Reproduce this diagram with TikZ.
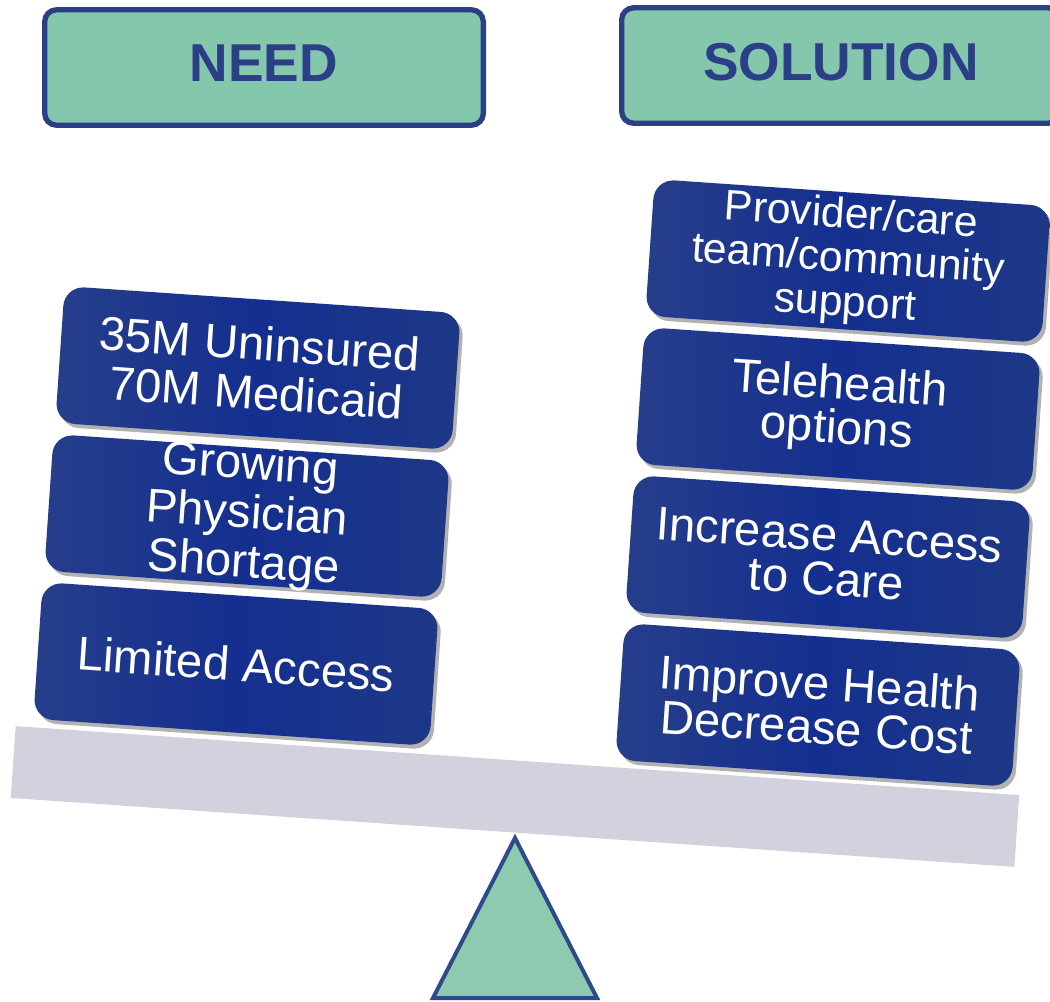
\documentclass[tikz,border=0pt]{standalone}
\usepackage{fontspec}
\setmainfont{Liberation Sans}
\usetikzlibrary{shadows}
\definecolor{hdrfill}{RGB}{132,199,173}
\definecolor{hdrline}{RGB}{43,63,135}
\definecolor{pivfill}{RGB}{142,202,176}
\definecolor{pivline}{RGB}{47,74,139}
\definecolor{beamgray}{RGB}{210,210,222}
\definecolor{boxL}{RGB}{38,62,138}
\definecolor{boxM}{RGB}{20,47,143}
\definecolor{boxR}{RGB}{30,56,135}

\begin{document}
\begin{tikzpicture}[x=0.75pt,y=-0.75pt,
    header/.style={draw=hdrline,line width=4pt,fill=hdrfill,rounded corners=9pt,
      minimum width=329pt,minimum height=86.6pt,text=hdrline,text depth=6pt,
      font=\bfseries\fontsize{40}{41}\selectfont},
    item/.style={rounded corners=15pt,minimum width=297.75pt,minimum height=102.75pt,
      left color=boxL,right color=boxR,middle color=boxM,rotate=-3.93,
      drop shadow={shadow xshift=2.5pt,shadow yshift=-3pt,fill=black,opacity=0.3}},
    itemtext/.style={text=white,align=center,rotate=-3.93,inner sep=0pt,
      font=\fontsize{35.5}{36.75}\selectfont},
    tighttext/.style={itemtext,font=\fontsize{35.5}{33}\selectfont},
    pivot/.style={draw=pivline,fill=pivfill,line width=3pt}]
    \clip (0,0) rectangle (1050,1001);

    % headings
    \node[header] (need) at (264,67.5) {NEED};
    \node[header] (sol) at (841,65.5) {SOLUTION};

    % seesaw
    \draw[pivot] (515,838) -- (597,998) -- (433,998) -- cycle;
    \node[fill=beamgray,rotate=-3.93,minimum width=754.5pt,minimum height=54pt,
      inner sep=0pt] (beam) at (515,796.5) {};

    % need side
    \node[item] (n1) at (258,368) {};
    \node[itemtext] (t1) at (n1) {35M Uninsured\\70M Medicaid};
    \node[item] (n2) at (247,516) {};
    \node[itemtext] (t2) at (n2) {Growing\\Physician\\Shortage};
    \node[item] (n3) at (236,664) {};
    \node[itemtext] (t3) at (n3) {Limited Access};

    % solution side
    \node[item] (s1) at (848,261) {};
    \node[tighttext,font=\fontsize{32}{33}\selectfont] (u1) at (s1)
      {Provider/care\\team/community\\support};
    \node[item] (s2) at (838,409) {};
    \node[tighttext] (u2) at (s2) {Telehealth\\options};
    \node[item] (s3) at (828,557) {};
    \node[tighttext] (u3) at (s3) {Increase Access\\to Care};
    \node[item] (s4) at (818,705) {};
    \node[tighttext] (u4) at (s4) {Improve Health\\Decrease Cost};
\end{tikzpicture}
\end{document}
